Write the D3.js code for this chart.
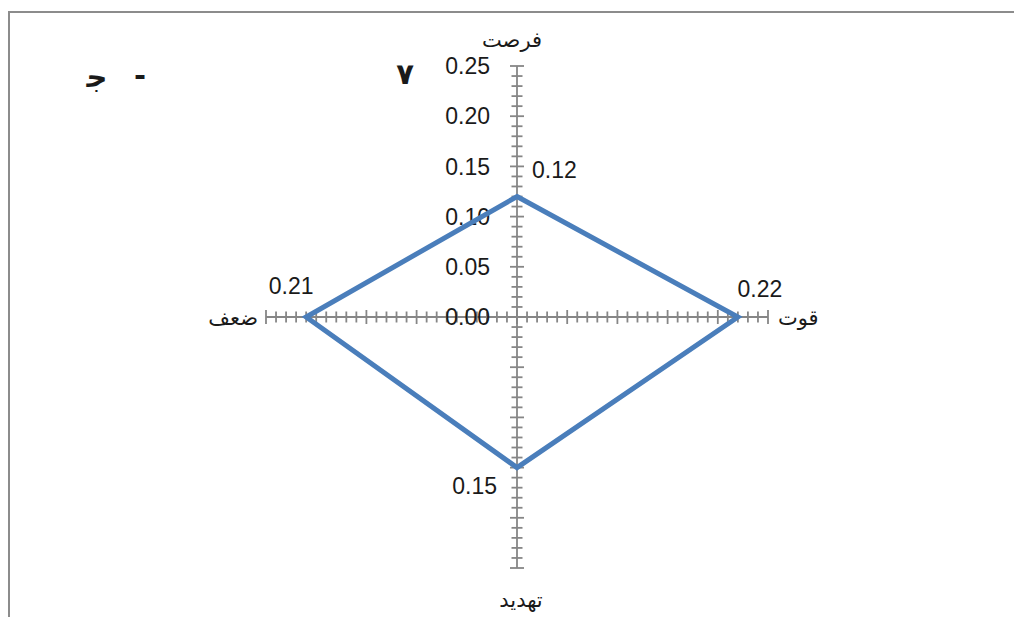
<!DOCTYPE html>
<html>
<head>
<meta charset="utf-8">
<script src="https://cdn.jsdelivr.net/npm/d3@7"></script>
<style>
  body { margin: 0; background: #fff; }
  svg { display: block; }
</style>
</head>
<body>
<svg width="1014" height="617"></svg>
<script>
// chart data
var categories = ["فرصت", "قوت", "تهدید", "ضعف"];
var values = [0.12, 0.22, 0.15, 0.21];
var tickValues = [0, 0.05, 0.10, 0.15, 0.20, 0.25];

var svg = d3.select("svg"),
	cx = 517, cy = 317, R = 251;

var r = d3.scaleLinear().domain([0, 0.25]).range([0, R]);
var fmt = d3.format(".2f");

function angle(i){ return i * Math.PI / 2; }
function px(i, v){ return cx + r(v) * Math.sin(angle(i)); }
function py(i, v){ return cy - r(v) * Math.cos(angle(i)); }

// frame (left + top edges only visible)
svg.append("path")
	.attr("d", "M9,617 L9,12 L1014,12")
	.attr("fill", "none")
	.attr("stroke", "#8c8c8c")
	.attr("stroke-width", 2);

// spokes with ticks
var minor = d3.range(0, 26).map(function(d){ return d / 100; });
var axisG = svg.append("g").attr("stroke", "#868686").attr("stroke-width", 1.8);

categories.forEach(function(c, i){
	axisG.append("line")
		.attr("x1", cx).attr("y1", cy)
		.attr("x2", px(i, 0.25)).attr("y2", py(i, 0.25));
	minor.forEach(function(t, k){
		var len = (k % 5 === 0) ? 7 : 5.5;
		var x = px(i, t), y = py(i, t);
		var nx = Math.cos(angle(i)), ny = Math.sin(angle(i));
		axisG.append("line")
			.attr("x1", x - nx * len).attr("y1", y - ny * len)
			.attr("x2", x + nx * len).attr("y2", y + ny * len);
	});
});

// value labels on the top spoke
svg.append("g").selectAll("text")
	.data(tickValues)
	.join("text")
	.attr("x", cx - 27)
	.attr("y", function(d){ return py(0, d); })
	.attr("dy", "0.36em")
	.attr("text-anchor", "end")
	.attr("font-family", "Liberation Sans, Arial, sans-serif")
	.attr("font-size", 23)
	.attr("fill", "#1a1a1a")
	.text(fmt);

// series polygon
var line = d3.line().curve(d3.curveLinearClosed);
svg.append("path")
	.datum(values.map(function(v, i){ return [px(i, v), py(i, v)]; }))
	.attr("d", line)
	.attr("fill", "none")
	.attr("stroke", "#4a7ebb")
	.attr("stroke-width", 5)
	.attr("stroke-linejoin", "miter");

// data labels
var labelOff = [[15, -27, "start"], [22, -28, "middle"], [-20, 18, "end"], [-15, -31, "middle"]];
svg.append("g").selectAll("text")
	.data(values)
	.join("text")
	.attr("x", function(d, i){ return px(i, d) + labelOff[i][0]; })
	.attr("y", function(d, i){ return py(i, d) + labelOff[i][1]; })
	.attr("dy", "0.36em")
	.attr("text-anchor", function(d, i){ return labelOff[i][2]; })
	.attr("font-family", "Liberation Sans, Arial, sans-serif")
	.attr("font-size", 23)
	.attr("fill", "#1a1a1a")
	.text(fmt);

// category labels
var catPos = [[-5, -277, "middle"], [261, 1, "start"], [4, 283, "middle"], [-259, 1, "end"]];
svg.append("g").selectAll("text")
	.data(categories)
	.join("text")
	.attr("x", function(d, i){ return cx + catPos[i][0]; })
	.attr("y", function(d, i){ return cy + catPos[i][1]; })
	.attr("dy", "0.35em")
	.attr("text-anchor", function(d, i){ return catPos[i][2]; })
	.attr("direction", "ltr")
	.attr("font-family", "DejaVu Sans, sans-serif")
	.attr("font-size", 21)
	.attr("fill", "#1a1a1a")
	.text(function(d){ return d; });

// caption marks
var caption = svg.append("g")
	.attr("font-family", "DejaVu Sans, sans-serif")
	.attr("font-weight", "bold")
	.attr("font-size", 29)
	.attr("fill", "#1a1a1a")
	.attr("text-anchor", "middle");
caption.append("text").attr("x", 97).attr("y", 87).text("ﺟ");
caption.append("text").attr("x", 140).attr("y", 85).text("-");
caption.append("text").attr("x", 405).attr("y", 84).text("۷");
</script>
</body>
</html>
